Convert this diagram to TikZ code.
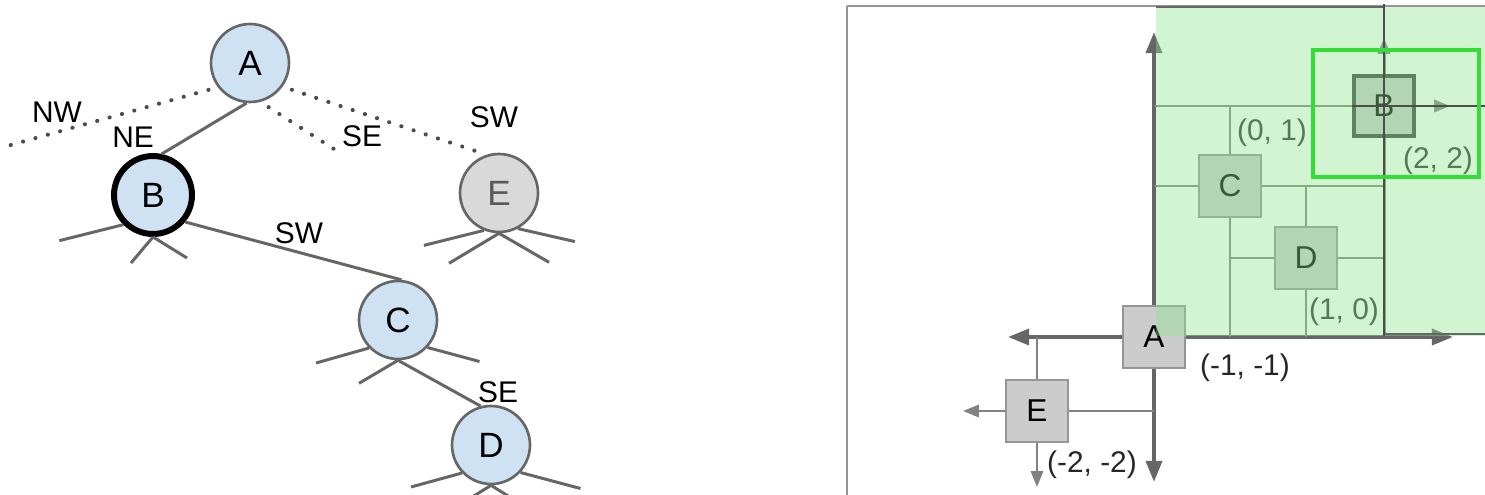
\documentclass[tikz,border=0pt]{standalone}
\usepackage{fontspec}
\setmainfont{Liberation Sans}
\usetikzlibrary{arrows.meta}

\definecolor{nodeblue}{RGB}{207,226,243}
\definecolor{nodegray}{RGB}{217,217,217}
\definecolor{edgegray}{RGB}{102,102,102}
\definecolor{dotgray}{RGB}{75,75,75}
\definecolor{boxgray}{RGB}{204,204,204}
\definecolor{boxline}{RGB}{150,150,150}
\definecolor{splitgray}{RGB}{130,130,130}
\definecolor{framegray}{RGB}{150,150,150}
\definecolor{quadgreen}{RGB}{137,230,137}
\definecolor{hlgreen}{RGB}{51,221,51}

\begin{document}
\begin{tikzpicture}[x=0.02cm, y=-0.02cm,
  every node/.style={font=\fontsize{17}{20}\selectfont},
  treenode/.style={circle, draw=edgegray, line width=1.5pt, fill=nodeblue,
    minimum size=1.56cm, inner sep=0pt, font=\fontsize{20}{24}\selectfont},
  treeedge/.style={edgegray, line width=1.7pt},
  freeedge/.style={dotgray, line width=2.3pt, line cap=round,
    dash pattern=on 0.1pt off 7.2pt, shorten <=5.5pt},
  quadbox/.style={draw=boxline, line width=0.8pt, fill=boxgray,
    minimum size=1.24cm, inner sep=0pt, font=\fontsize{18}{22}\selectfont},
  axisline/.style={edgegray, line width=2.3pt},
  bigtip/.style={-{Triangle[length=12pt, width=9pt]}},
  smalltip/.style={-{Triangle[length=9pt, width=7pt]}},
  splitline/.style={splitgray, line width=1.1pt},
  thinline/.style={black!70, line width=0.8pt}]

  \useasboundingbox (0,0) rectangle (1485,494);

  % Tree nodes on the left
  \node[treenode] (A) at (250,63) {A};
  \node[treenode, draw=black, line width=3.4pt] (B) at (153,195) {B};
  \node[treenode, fill=nodegray, text=black!65] (E) at (499,193) {E};
  \node[treenode] (C) at (398,320) {C};
  \node[treenode] (D) at (491,445) {D};

  % Edges between the tree nodes
  \draw[treeedge] (A.-95) -- (B.78);
  \draw[treeedge] (B.-40) -- (C.85);
  \draw[treeedge] (C.-90) -- (D.105);

  % Dotted children of A
  \coordinate (nwend) at (0,148);
  \coordinate (seend) at (334,149);
  \draw[freeedge] (A.-143) -- (nwend);
  \draw[freeedge] (A.-75) -- (seend);
  \draw[freeedge, shorten >=4.5pt] (A.-36) -- (E.108);

  % Stubs for the empty children
  \foreach \n/\a/\dx/\dy in {B/-135/-64/16, B/-90/-22/26, B/-90/34/21,
    C/-136/-53/15, C/-43/52/14, C/-90/-39/23,
    E/-112/-60/15, E/-62/57/13, E/-90/-50/30, E/-90/50/29,
    D/-136/-51/14, D/-43/60/16, D/-90/-40/25, D/-90/40/25}
    \draw[treeedge] (\n.\a) -- ++(\dx,\dy);

  % Quadrant labels on the edges
  \node (lNW) at (57,112) {NW};
  \node (lNE) at (133,137) {NE};
  \node (lSE) at (362,136) {SE};
  \node (lSWe) at (494,117) {SW};
  \node (lSWc) at (299,233) {SW};
  \node (lSEd) at (498,392) {SE};

  % Frame of the plane
  \draw[framegray, line width=0.9pt] (847,6) -- (1490,6);
  \draw[framegray, line width=0.9pt] (847,6) -- (847,500);

  % Points as boxes
  \node[quadbox] (qA) at (1154,337) {A};
  \node[quadbox] (qE) at (1037,411) {E};
  \node[quadbox] (qC) at (1230,186) {C};
  \node[quadbox] (qD) at (1306,258) {D};
  \node[quadbox, minimum size=1.2cm, draw=black!75, line width=2.8pt] (qB) at (1384,106) {B};

  % Axes through A
  \coordinate (axW) at (1008,337);
  \coordinate (axE) at (1453,337);
  \coordinate (axN) at (1154,32);
  \coordinate (axS) at (1154,482);
  \draw[axisline, bigtip] (qA.west) -- (axW);
  \draw[axisline, bigtip] (qA.east) -- (axE);
  \draw[axisline, bigtip] (qA.north) -- (axN);
  \draw[axisline, bigtip] (qA.south) -- (axS);

  % Lines through E
  \coordinate (eW) at (963,411);
  \coordinate (eE) at (1154,411);
  \coordinate (eN) at (1037,337);
  \coordinate (eS) at (1037,487);
  \draw[splitline, smalltip] (qE.west) -- (eW);
  \draw[splitline] (qE.east) -- (eE);
  \draw[splitline] (qE.north) -- (eN);
  \draw[splitline, smalltip] (qE.south) -- (eS);

  % Lines through C
  \coordinate (cN) at (1230,106);
  \coordinate (cS) at (1230,337);
  \coordinate (cW) at (1154,186);
  \coordinate (cE) at (1384,186);
  \draw[splitline] (qC.north) -- (cN);
  \draw[splitline] (qC.south) -- (cS);
  \draw[splitline] (qC.west) -- (cW);
  \draw[splitline] (qC.east) -- (cE);

  % Lines through D
  \coordinate (dN) at (1306,186);
  \coordinate (dS) at (1306,337);
  \coordinate (dW) at (1230,258);
  \coordinate (dE) at (1384,258);
  \draw[splitline] (qD.north) -- (dN);
  \draw[splitline] (qD.south) -- (dS);
  \draw[splitline] (qD.west) -- (dW);
  \draw[splitline] (qD.east) -- (dE);

  % Lines through B
  \coordinate (bW) at (1154,106);
  \coordinate (bE) at (1450,106);
  \coordinate (bN) at (1384,38);
  \coordinate (bS) at (1384,336);
  \draw[splitline, line width=1.7pt] (qB.west) -- (bW);
  \draw[splitline, line width=1.7pt, smalltip] (qB.east) -- (bE);
  \draw[splitline, line width=1.7pt, smalltip] (qB.north) -- (bN);
  \draw[splitline, line width=1.7pt] (qB.south) -- (bS);

  % Coordinates inside the quadrant
  \node[text=black!80] (l01) at (1272,133) {(0, 1)};
  \node[text=black!80] (l22) at (1438,161) {(2, 2)};
  \node[text=black!80] (l10) at (1344,312) {(1, 0)};

  % Green quadrant over the points
  \fill[quadgreen, opacity=0.4] (1156,7) rectangle (1490,336);
  \draw[edgegray, line width=0.9pt] (1156,7) -- (1384,7);
  \draw[edgegray, line width=0.9pt] (1384,334) -- (1490,334);

  % Thin lines through B on top
  \coordinate (bTop) at (1384,4);
  \coordinate (bRight) at (1490,106);
  \draw[thinline] (bTop) -- (bS);
  \draw[thinline] (qB.west) -- (bRight);

  % Highlighted region round B
  \draw[hlgreen, line width=2.5pt] (1313,50) rectangle (1479,177);

  % Coordinates outside the quadrant
  \node[text=black!85] (lm11) at (1245,368) {(-1, -1)};
  \node[text=black!85] (lm22) at (1092,465) {(-2, -2)};
\end{tikzpicture}
\end{document}
